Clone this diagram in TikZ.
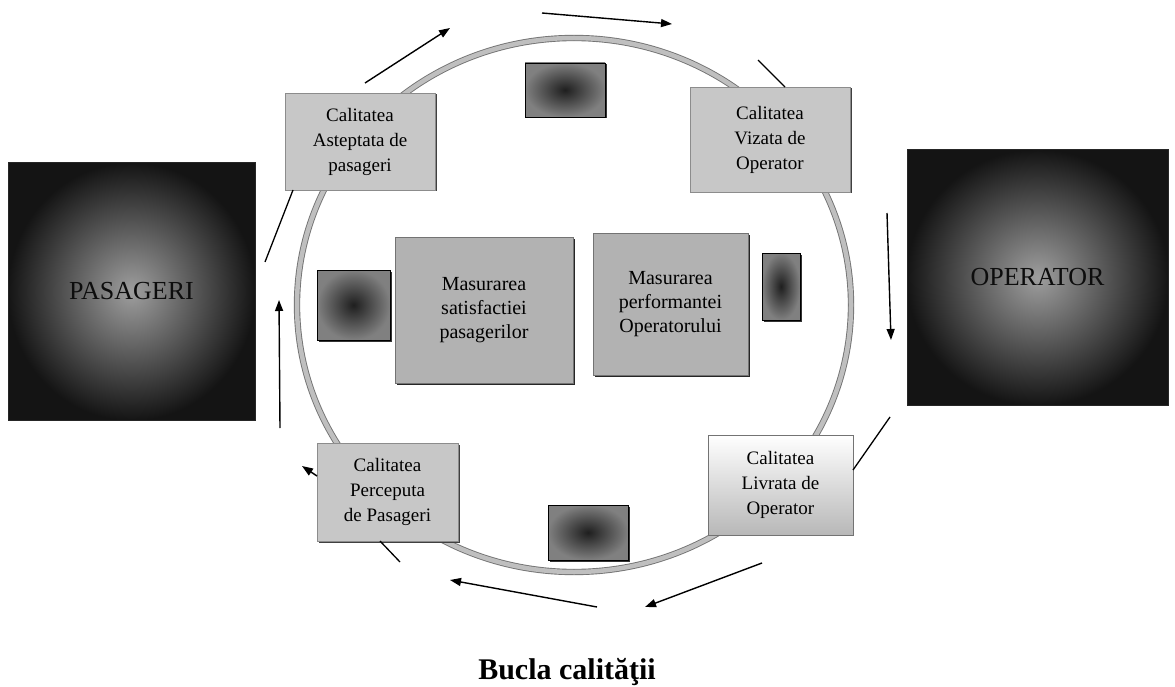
\documentclass[tikz,border=0pt]{standalone}
\usepackage{fontspec}
\setmainfont{Liberation Serif}
\usetikzlibrary{arrows.meta,shadows}
\begin{document}
\begin{tikzpicture}[x=1pt,y=-1pt,
  bigdark/.style={rectangle, inner sep=0pt, inner color=black!38, outer color=black!92, draw=black!85, line width=1pt, font=\fontsize{26}{30}\selectfont, text=black!95},
  smalldark/.style={rectangle, inner sep=0pt, inner color=black!88, outer color=black!50, draw=black, line width=0.8pt, drop shadow={shadow xshift=1.5pt, shadow yshift=-1.5pt, fill=black!80, opacity=1}},
  lightbox/.style={rectangle, inner sep=0pt, fill=black!22, draw=black!45, line width=0.6pt, align=center, font=\fontsize{19}{25}\selectfont, drop shadow={shadow xshift=1.5pt, shadow yshift=-1.5pt, fill=black!75, opacity=1}},
  whitebox/.style={rectangle, inner sep=0pt, top color=white, bottom color=black!28, draw=black!55, line width=0.6pt, align=center, font=\fontsize{19}{25}\selectfont},
  measbox/.style={rectangle, inner sep=0pt, fill=black!30, draw=black!55, line width=0.6pt, align=center, font=\fontsize{20}{24}\selectfont, drop shadow={shadow xshift=2pt, shadow yshift=-2pt, fill=black!85, opacity=1}},
  flow/.style={line width=1.4pt, -{Triangle[length=11pt,width=8pt]}},
  link/.style={line width=1.3pt}
]
\useasboundingbox[fill=white] (0,0) rectangle (1175,687);

% loop circle
\draw[draw=black!55, line width=0.9pt, double=black!25, double distance=4.5pt] (574,305) ellipse [x radius=277, y radius=267];

% big boxes
\node[bigdark, minimum width=247pt, minimum height=257pt] (pas) at (131.5,291.5) {PASAGERI};
\node[bigdark, minimum width=261pt, minimum height=255pt] (op) at (1037.5,277.5) {OPERATOR};

% quality boxes
\node[lightbox, minimum width=150pt, minimum height=97pt] (qa) at (360,141.5) {Calitatea\\Asteptata de\\pasageri};
\node[lightbox, minimum width=160pt, minimum height=105pt] (qv) at (770,139.5) {Calitatea\\Vizata de\\Operator};
\node[lightbox, minimum width=141pt, minimum height=98pt] (qp) at (387.5,492) {Calitatea\\Perceputa\\de Pasageri};
\node[whitebox, minimum width=145pt, minimum height=100pt] (ql) at (780.5,485) {Calitatea\\Livrata de\\Operator};

% measurement boxes
\node[measbox, minimum width=178pt, minimum height=146pt] (m1) at (484,310) {Masurarea\\satisfactiei\\pasagerilor};
\node[measbox, minimum width=155pt, minimum height=142pt] (m2) at (670.5,304) {Masurarea\\performantei\\Operatorului};

% small dark boxes
\node[smalldark, minimum width=80pt, minimum height=54pt] (st) at (565,90) {};
\node[smalldark, minimum width=73pt, minimum height=70pt] (sl) at (353.5,305) {};
\node[smalldark, minimum width=38pt, minimum height=67pt] (sr) at (781,286.5) {};
\node[smalldark, minimum width=80pt, minimum height=55pt] (sb) at (588,532.5) {};

% connector end points
\coordinate (a1s) at (365,83);  \coordinate (a1e) at (450,28);
\coordinate (a2s) at (542,13);  \coordinate (a2e) at (672,24);
\coordinate (l3s) at (758,60);  \coordinate (l3e) at (785,87);
\coordinate (a4s) at (887,213); \coordinate (a4e) at (891,340);
\coordinate (l5s) at (890,417); \coordinate (l5e) at (853,470);
\coordinate (a6s) at (762,563); \coordinate (a6e) at (645,607);
\coordinate (a7s) at (597,607); \coordinate (a7e) at (450,580);
\coordinate (l8s) at (380,541); \coordinate (l8e) at (400,562);
\coordinate (a9s) at (317,476); \coordinate (a9e) at (302,466);
\coordinate (a10s) at (280,428); \coordinate (a10e) at (279,300);
\coordinate (l11s) at (293,190); \coordinate (l11e) at (265,262);

\draw[flow] (a1s) -- (a1e);
\draw[flow] (a2s) -- (a2e);
\draw[link] (l3s) -- (l3e);
\draw[flow] (a4s) -- (a4e);
\draw[link] (l5s) -- (l5e);
\draw[flow] (a6s) -- (a6e);
\draw[flow] (a7s) -- (a7e);
\draw[link] (l8s) -- (l8e);
\draw[flow] (a9s) -- (a9e);
\draw[flow] (a10s) -- (a10e);
\draw[link] (l11s) -- (l11e);

% title
\node[anchor=base, font=\bfseries\fontsize{30}{34}\selectfont] (title) at (567,679) {Bucla calităţii};
\end{tikzpicture}
\end{document}
